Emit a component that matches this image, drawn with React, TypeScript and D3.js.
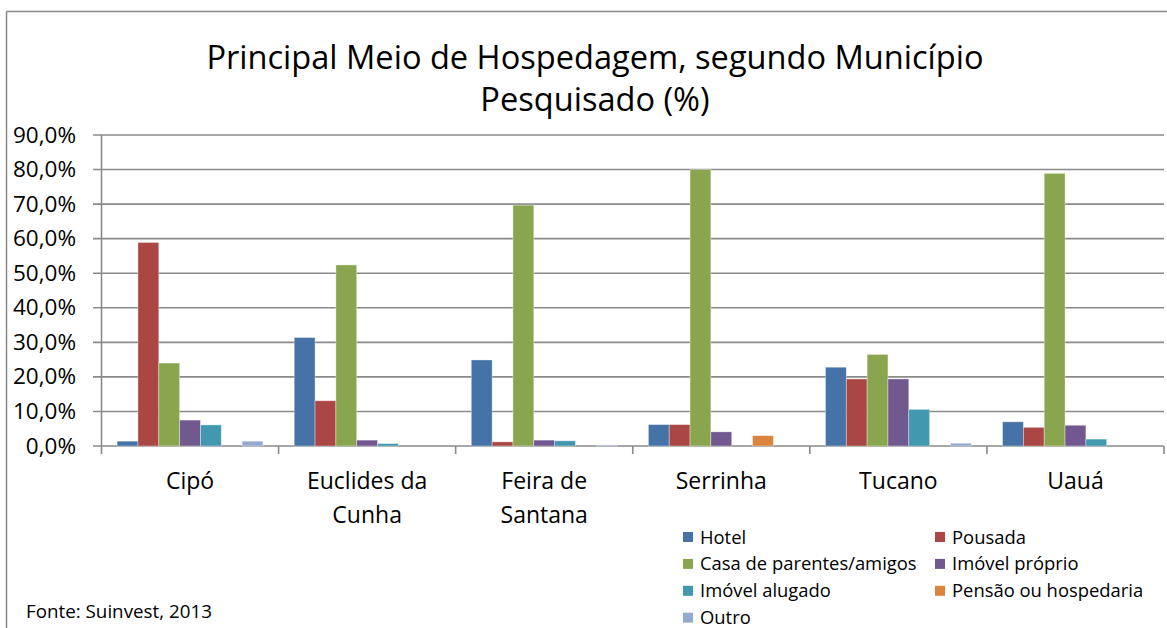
import React from "react";
import * as d3 from "d3";

const categories = ["Cipó", "Euclides da Cunha", "Feira de Santana", "Serrinha", "Tucano", "Uauá"];
const categoryLines = [["Cipó"], ["Euclides da", "Cunha"], ["Feira de", "Santana"], ["Serrinha"], ["Tucano"], ["Uauá"]];
const seriesNames = ["Hotel", "Pousada", "Casa de parentes/amigos", "Imóvel próprio", "Imóvel alugado", "Pensão ou hospedaria", "Outro"];
const seriesColors = ["#4572A7", "#AA4643", "#89A54E", "#71588F", "#4198AF", "#DB843D", "#93A9CF"];
const hotel = [1.4, 31.4, 24.9, 6.2, 22.8, 7.0];
const pousada = [58.9, 13.1, 1.2, 6.2, 19.4, 5.4];
const casa = [24.0, 52.4, 69.7, 80.0, 26.5, 78.9];
const proprio = [7.5, 1.7, 1.7, 4.1, 19.4, 6.0];
const alugado = [6.1, 0.7, 1.5, 0, 10.6, 2.0];
const pensao = [0, 0, 0, 3.0, 0, 0];
const outro = [1.4, 0, 0.3, 0, 0.8, 0];
const seriesValues = [hotel, pousada, casa, proprio, alugado, pensao, outro];
const yTicks = [0, 10, 20, 30, 40, 50, 60, 70, 80, 90];

const FONT = "'Open Sans', 'Noto Sans', sans-serif";

export default function App() {
  const W = 1167, H = 628;
  const left = 101.5, right = 1164, top = 135, bottom = 446;
  const x0 = d3.scaleBand<string>().domain(categories).range([left, right]).paddingInner(0).paddingOuter(0);
  const bw = x0.bandwidth();
  const barW = bw / 8.5;
  const y = d3.scaleLinear().domain([0, 90]).range([bottom, top]);
  const fmt = (v: number) => d3.format(".1f")(v).replace(".", ",") + "%";

  return (
    <div style={{ position: "absolute", left: 0, top: 0 }}>
      <svg width={W} height={H} style={{ display: "block", fontFamily: FONT }}>
        <rect x={0} y={0} width={W} height={H} fill="#fff" />
        <line x1={6.5} x2={W} y1={11.5} y2={11.5} stroke="#878787" strokeWidth={1.5} />
        <line x1={6.5} x2={6.5} y1={11.5} y2={H} stroke="#878787" strokeWidth={1.5} />
        <text x={595} y={69} textAnchor="middle" fontSize={32.6} fill="#000">Principal Meio de Hospedagem, segundo Município</text>
        <text x={595} y={111} textAnchor="middle" fontSize={32.6} fill="#000">Pesquisado (%)</text>
        {yTicks.map((t) => (
          <g key={t}>
            <line x1={93} x2={right} y1={y(t)} y2={y(t)} stroke="#8a8a8a" strokeWidth={1.6} />
            <text x={76} y={y(t) + 7.5} textAnchor="end" fontSize={22.5} fill="#000">{fmt(t)}</text>
          </g>
        ))}
        <line x1={left} x2={left} y1={top} y2={bottom} stroke="#8a8a8a" strokeWidth={1.6} />
        {categories.map((c, i) => (
          <g key={c}>
            {seriesValues.map((vals, s) => {
              const v = vals[i];
              if (v <= 0) return null;
              const bx = (x0(c) as number) + barW * 0.75 + s * barW;
              return (
                <rect key={s} x={bx} y={y(v)} width={barW} height={bottom - y(v)} fill={seriesColors[s]} stroke="rgba(255,255,255,0.45)" strokeWidth={0.8} />
              );
            })}
          </g>
        ))}
        {categories.concat([""]).map((c, i) => {
          const tx = left + i * bw;
          return <line key={i} x1={tx} x2={tx} y1={bottom} y2={bottom + 8} stroke="#8a8a8a" strokeWidth={1.6} />;
        })}
        {categoryLines.map((lines, i) => (
          <text key={i} x={(x0(categories[i]) as number) + bw / 2} textAnchor="middle" fontSize={23} fill="#000">
            {lines.map((l, j) => (
              <tspan key={j} x={(x0(categories[i]) as number) + bw / 2} y={489 + j * 34}>{l}</tspan>
            ))}
          </text>
        ))}
        {seriesNames.map((n, s) => {
          const col = s % 2, row = Math.floor(s / 2);
          const lx = col === 0 ? 683 : 935;
          const ly = 537 + row * 26.9;
          return (
            <g key={n}>
              <rect x={lx} y={ly - 5} width={10} height={10} fill={seriesColors[s]} />
              <text x={lx + 17} y={ly + 6.5} fontSize={18.4} fill="#000">{n}</text>
            </g>
          );
        })}
        <text x={26} y={618} fontSize={18.8} fill="#000">Fonte: Suinvest, 2013</text>
      </svg>
    </div>
  );
}
